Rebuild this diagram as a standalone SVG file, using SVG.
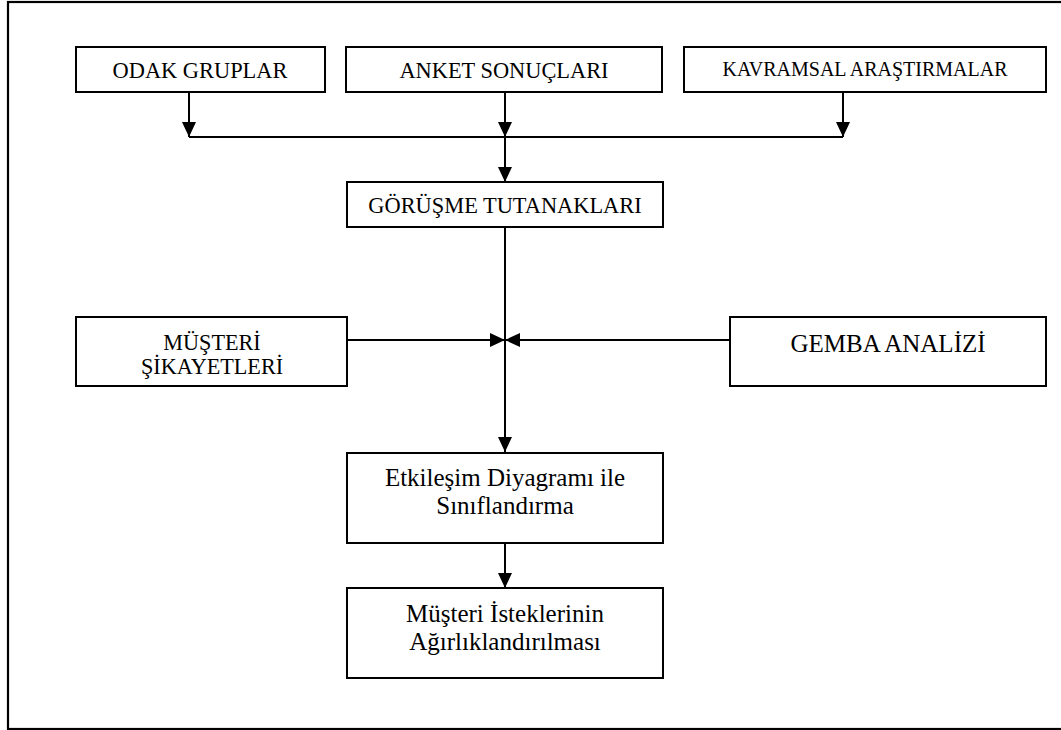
<svg xmlns="http://www.w3.org/2000/svg" width="1061" height="730" viewBox="0 0 1061 730">
  <style>
    .box { fill: #ffffff; stroke: #000000; stroke-width: 2; }
    .frame { fill: none; stroke: #000000; stroke-width: 2.2; }
    .lbl { font-family: "Liberation Serif", "Times New Roman", serif; fill: #000000; text-anchor: middle; }
    .conn { fill: none; stroke: #000000; stroke-width: 2; }
  </style>
  <defs>
    <marker id="arrow" markerUnits="userSpaceOnUse" markerWidth="15" markerHeight="15" refX="15" refY="7" orient="auto">
      <path d="M0,0 L15,7 L0,14 z" fill="#000000"/>
    </marker>
  </defs>

  <rect width="1061" height="730" fill="#ffffff"/>
  <rect class="frame" x="8" y="2" width="1062" height="727"/>

  <g id="connectors">
    <line class="conn" x1="189" y1="92" x2="189" y2="137" marker-end="url(#arrow)"/>
    <line class="conn" x1="505" y1="92" x2="505" y2="137" marker-end="url(#arrow)"/>
    <line class="conn" x1="843" y1="92" x2="843" y2="137" marker-end="url(#arrow)"/>
    <line class="conn" x1="189" y1="137" x2="843" y2="137"/>
    <line class="conn" x1="505" y1="137" x2="505" y2="182" marker-end="url(#arrow)"/>
    <line class="conn" x1="505" y1="227" x2="505" y2="452" marker-end="url(#arrow)"/>
    <line class="conn" x1="347" y1="340" x2="505" y2="340" marker-end="url(#arrow)"/>
    <line class="conn" x1="730" y1="340" x2="505" y2="340" marker-end="url(#arrow)"/>
    <line class="conn" x1="505" y1="543" x2="505" y2="588" marker-end="url(#arrow)"/>
  </g>

  <g id="odak-gruplar">
    <rect class="box" x="76" y="47" width="249" height="45"/>
    <text class="lbl" x="200" y="78" font-size="22.4">ODAK GRUPLAR</text>
  </g>

  <g id="anket-sonuclari">
    <rect class="box" x="346" y="47" width="316" height="45"/>
    <text class="lbl" x="504" y="78" font-size="22.4">ANKET SONUÇLARI</text>
  </g>

  <g id="kavramsal-arastirmalar">
    <rect class="box" x="684" y="47" width="362" height="45"/>
    <text class="lbl" x="865" y="76" font-size="20">KAVRAMSAL ARAŞTIRMALAR</text>
  </g>

  <g id="gorusme-tutanaklari">
    <rect class="box" x="347" y="182" width="316" height="45"/>
    <text class="lbl" x="505" y="213" font-size="22.4">GÖRÜŞME TUTANAKLARI</text>
  </g>

  <g id="musteri-sikayetleri">
    <rect class="box" x="76" y="317" width="271" height="69"/>
    <text class="lbl" x="212" y="350" font-size="22.2">MÜŞTERİ</text>
    <text class="lbl" x="212" y="374" font-size="22.2">ŞİKAYETLERİ</text>
  </g>

  <g id="gemba-analizi">
    <rect class="box" x="730" y="317" width="316" height="69"/>
    <text class="lbl" x="888" y="352" font-size="25">GEMBA ANALİZİ</text>
  </g>

  <g id="etkilesim-diyagrami">
    <rect class="box" x="347" y="453" width="316" height="90"/>
    <text class="lbl" x="505" y="486" font-size="25">Etkileşim Diyagramı ile</text>
    <text class="lbl" x="505" y="514" font-size="25">Sınıflandırma</text>
  </g>

  <g id="musteri-istekleri">
    <rect class="box" x="347" y="588" width="316" height="90"/>
    <text class="lbl" x="505" y="622" font-size="25">Müşteri İsteklerinin</text>
    <text class="lbl" x="505" y="650" font-size="25">Ağırlıklandırılması</text>
  </g>
</svg>
